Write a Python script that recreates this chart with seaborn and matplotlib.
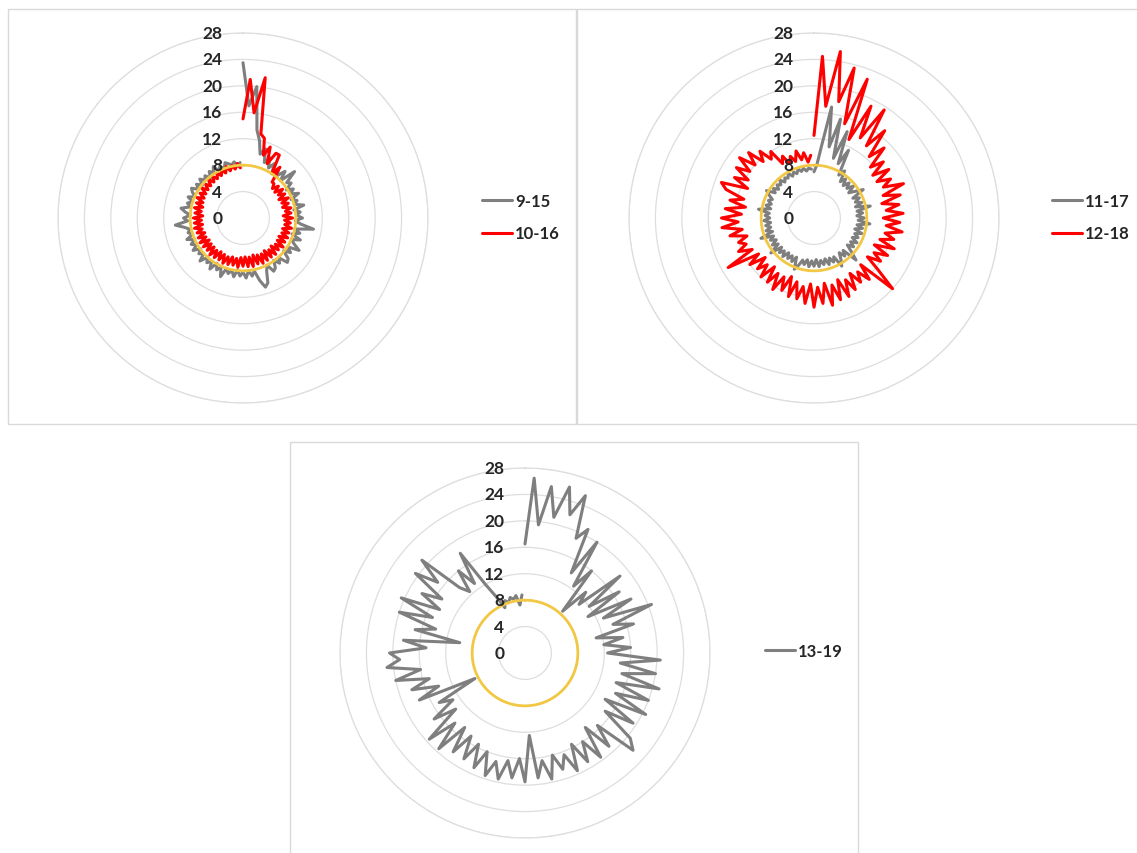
import numpy as np
import pandas as pd
import seaborn as sns
import matplotlib
matplotlib.use("Agg")
import matplotlib.pyplot as plt
from matplotlib.patches import Rectangle
from matplotlib.transforms import offset_copy

sns.set_style("white")
plt.rcParams['font.family'] = ['Lato', 'DejaVu Sans']

# data: one value every 3 degrees, clockwise from the top
step_deg = 3
r_ticks = [0, 4, 8, 12, 16, 20, 24, 28]
threshold = 8

s_9_15 = [23.5, 17, 20, 13.5, 12, 10, 11, 9, 10, 8.5, 9.5, 8, 9, 8.3, 9.5, 8, 10.5, 8.5, 9, 7.8,
          8.8, 8, 9.2, 7.8, 8.6, 8, 9.4, 7.8, 8.7, 8.1, 9, 7.9, 8.8, 10.8, 8, 8.9, 7.8, 9.3, 8, 8.7,
          9.8, 8, 8.9, 7.9, 9.2, 9.5, 8.1, 8.8, 7.9, 9, 9.3, 8, 8.8, 10.5, 11, 9.8, 8.2, 8.9, 8, 9.1,
          8.2, 8.8, 7.9, 9, 8.1, 8.7, 8, 9.5, 8.2, 8.8, 7.9, 9.2, 8.1, 8.7, 8, 9.2, 8, 8.6, 7.9, 9,
          8.1, 8.8, 8, 9.1, 8, 8.6, 8.2, 9, 10.3, 8.4, 9, 8, 8.8, 9.5, 8.1, 8.7, 8, 8.9, 7.9, 8.6,
          9, 8, 8.7, 7.9, 8.8, 8.1, 8.6, 7.8, 8.7, 8.2, 9, 8, 8.6, 7.9, 8.8, 8.5, 8.2, 8.6, 7.9, 8.4]

s_10_16 = [15, 21, 16, 21.5, 13, 12.5, 10, 11.5, 9, 11, 11, 8, 9.5, 7, 7, 6.3, 7.2, 6.2, 7.4, 6.4,
           7.3, 6.1, 7.5, 6.3, 7.2, 6.2, 7.4, 6.5, 7.3, 6.1, 7.5, 6.3, 7.2, 6.4, 7.5, 6.2, 7.3, 6.3, 7.4, 6.1,
           7.3, 6.2, 7.5, 6.3, 7.2, 6, 7.4, 6.2, 7.3, 5.9, 7.4, 6.1, 7.5, 6, 7.3, 5.8, 7.5, 6, 7.4, 5.9,
           7.3, 6, 7.5, 6.2, 7.3, 6.1, 7.4, 6.3, 7.5, 6.2, 7.3, 6.1, 7.4, 6.3, 7.5, 6.2, 7.3, 6.2, 7.4, 6.1,
           7.5, 6.3, 7.4, 6.2, 7.3, 6.4, 7.5, 6.2, 7.4, 6.3, 7.5, 6.1, 7.3, 6.4, 7.5, 6.3, 7.4, 6.5, 7.6, 6.6,
           7.5, 6.7, 7.7, 6.8, 7.6, 6.9, 7.8, 7, 7.7, 7.1, 7.9, 7.2, 8, 7.3, 8.2, 7.4, 8.1, 7.5, 8.3, 7.6]

s_11_17 = [7, 8, 11, 17, 11, 15.5, 9.5, 14, 9, 11.5, 7.5, 8.5, 6.8, 7.6, 6.6, 7.5, 6.7, 7.7, 6.5, 7.4,
           8.6, 6.6, 7.5, 6.7, 7.6, 6.5, 8.7, 6.6, 7.4, 6.5, 7.6, 6.7, 8.5, 6.6, 7.5, 6.4, 7.6, 6.6, 7.3, 6.5,
           7.5, 6.6, 7.4, 6.5, 7.6, 9, 6.6, 7.4, 6.5, 7.5, 8.4, 6.6, 7.3, 6.5, 7.4, 6.4, 7.2, 6.5, 7.4, 6.3,
           7.3, 6.5, 7.4, 6.4, 7.2, 6.6, 7.5, 8.3, 6.5, 7.4, 6.6, 7.3, 6.5, 7.5, 6.7, 7.4, 6.6, 8.4, 6.7, 7.5,
           6.6, 7.4, 6.7, 8.6, 6.6, 7.5, 6.7, 7.4, 6.6, 7.6, 6.7, 7.4, 6.8, 8.5, 6.7, 7.5, 6.8, 7.4, 6.9, 7.6,
           8.3, 7, 7.6, 6.9, 7.5, 7.1, 7.7, 7, 7.5, 7.2, 7.8, 7.1, 7.6, 7.2, 7.8, 7.3, 7.7, 7.2, 7.6, 7.4]

s_12_18 = [12.5, 24.5, 17, 25.5, 18, 23.5, 15, 22.5, 13, 19, 14, 19.5, 13.5, 17, 12.5, 15, 11.5, 13.5, 11, 13.5,
           11, 13, 11.5, 14.5, 11, 13.5, 10.5, 13, 11, 13.5, 10.5, 13, 11, 13.5, 11, 12.5, 10.5, 13, 10, 12.5,
           10.5, 12, 10, 12.5, 16, 10, 12.5, 10.5, 12, 10, 12.5, 10.5, 13, 10, 13, 10.5, 13.5, 10, 13, 10.5,
           13.5, 10, 13, 10.5, 12.5, 10, 12.5, 9.5, 12, 10, 12.5, 10, 12, 9.5, 12, 10, 11.5, 9.5, 12, 10,
           15, 10.5, 12.5, 11, 12, 10.5, 13, 11, 14, 11.5, 14, 11, 13.5, 10.5, 13, 11, 14, 15, 11, 13.5,
           11.5, 14, 12, 14.5, 12, 14, 11.5, 13, 11, 12, 9.5, 10.5, 9, 10, 9, 10.5, 9, 10, 8.5, 9.5]

s_13_19 = [16.5, 26.5, 19.5, 25.5, 21, 26, 22, 25.5, 19, 21, 14, 20, 12.5, 16, 8.5, 13, 11, 18.5, 12, 17,
           11, 18, 13, 20.5, 14, 17, 11, 15, 12, 16, 12.5, 20.5, 14.5, 20, 15, 21, 14.5, 20, 15, 20.5,
           14, 19.5, 15, 20.5, 22, 15.5, 19, 14.5, 19.5, 16, 19, 15.5, 19.5, 16.5, 18.5, 16, 19.5, 16.5, 19, 12.5,
           19.5, 16, 19, 16.5, 19.5, 17, 19.5, 16, 19, 15.5, 18.5, 15, 18.5, 14.5, 19.5, 15, 19.5, 13.5, 17, 13,
           15, 8.5, 17.5, 14, 18, 15, 20, 16, 21, 19, 20.5, 15, 18.5, 10, 17, 14, 20, 15, 20.5, 14.5,
           18, 15, 20.5, 17, 21, 14, 12.5, 16, 13, 18, 12, 9.5, 7.5, 8.5, 8, 8.7, 8.3, 8.8, 7.3, 8.8]

gray = "#7F7F7F"
red = "#FF0000"
gold = "#F2C744"
grid_col = "#DEDEDE"

W, H = 1137, 854
fig = plt.figure(figsize=(W / 100, H / 100), dpi=100)

# panel borders
for x0, y0, w, h in [(8, 10, 568, 415), (577, 10, 568, 415), (290, 443, 568, 415)]:
    fig.add_artist(Rectangle((x0 / W, 1 - (y0 + h) / H), w / W, h / H, transform=fig.transFigure,
                             fill=False, ec="#D9D9D9", lw=1))


def radar(cx, cy, series, colors, leg_xy):
    R = 185
    ax = fig.add_axes([(cx - R) / W, 1 - (cy + R) / H, 2 * R / W, 2 * R / H], projection='polar')
    ax.set_theta_zero_location('N')
    ax.set_theta_direction(-1)
    rows = []
    for name, vals in series.items():
        theta = np.deg2rad(np.arange(len(vals)) * step_deg)
        rows.append(pd.DataFrame({'theta': theta, 'value': vals, 'series': name}))
    df = pd.concat(rows, ignore_index=True)
    sns.lineplot(data=df, x='theta', y='value', hue='series', palette=colors,
                 sort=False, estimator=None, lw=2.2, ax=ax)
    circ = np.linspace(0, 2 * np.pi, 361)
    ax.plot(circ, np.full_like(circ, threshold), color=gold, lw=2, zorder=5)
    ax.set_ylim(0, 28)
    ax.set_yticks(r_ticks[1:])
    ax.set_yticklabels([])
    ax.set_xticks([])
    ax.grid(color=grid_col, lw=0.9)
    ax.spines['polar'].set_color(grid_col)
    ax.spines['polar'].set_linewidth(0.9)
    ax.set_xlabel('')
    ax.set_ylabel('')
    ax.set_facecolor('none')
    off = offset_copy(ax.transData, fig=fig, x=-15, y=0, units='points')
    for t in r_ticks:
        ax.text(0, t, str(t), transform=off, ha='right', va='center',
                fontsize=12.5, fontweight='bold', zorder=6)
    leg = ax.legend(loc='center left', bbox_to_anchor=leg_xy, bbox_transform=fig.transFigure,
                    frameon=False, prop={'weight': 'bold', 'size': 12}, handlelength=1.8,
                    handletextpad=0.2, labelspacing=1.0, borderpad=0, borderaxespad=0)
    for line in leg.get_lines():
        line.set_linewidth(2.2)
    return ax


radar(243, 219, {'9-15': s_9_15, '10-16': s_10_16}, {'9-15': gray, '10-16': red},
      (482 / W, 1 - 218 / H))
radar(814, 219, {'11-17': s_11_17, '12-18': s_12_18}, {'11-17': gray, '12-18': red},
      (1052 / W, 1 - 218 / H))
radar(525, 654, {'13-19': s_13_19}, {'13-19': gray},
      (765 / W, 1 - 652 / H))

fig.savefig("out.png", dpi=100)
